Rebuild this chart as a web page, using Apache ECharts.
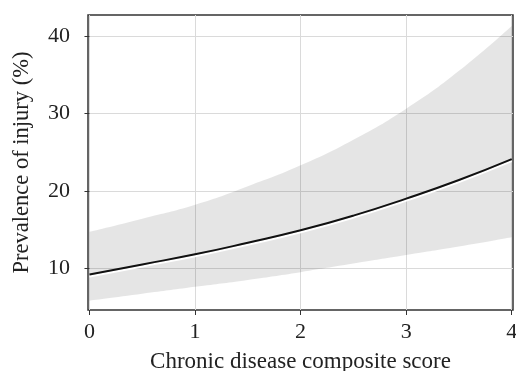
<html>
<head>
<meta charset="utf-8" />
<title>Prevalence of injury</title>
<script src="https://cdn.jsdelivr.net/npm/echarts@6/dist/echarts.min.js"></script>
<style type="text/css">
html, body { margin: 0; padding: 0; background: #fff; }
#echarts { width: 516px; height: 371px; }
</style>
</head>
<body>
<div id="echarts"></div>
<script type="text/javascript">
// values
var scores = [0, 0.5, 1, 1.5, 2, 2.5, 3, 3.5, 4];
var prevalence = [9.2, 10.5, 11.8, 13.3, 14.9, 16.8, 19.0, 21.4, 24.1];
var upper = [14.7, 16.4, 18.2, 20.6, 23.3, 26.6, 30.6, 35.5, 41.3];
var lower = [5.8, 6.7, 7.6, 8.5, 9.5, 10.6, 11.7, 12.8, 14.0];
var xTicks = [0, 1, 2, 3, 4];
var yTicks = [10, 20, 30, 40];

var myChart = echarts.init(document.getElementById('echarts'));

var serif = 'Liberation Serif';
// value first so that the stack goes on y, score second (encode below)
var lowerData = [], bandData = [], lineData = [];
for (var i = 0; i < scores.length; i++) {
    lowerData.push([lower[i], scores[i]]);
    bandData.push([+(upper[i] - lower[i]).toFixed(2), scores[i]]);
    lineData.push([prevalence[i], scores[i]]);
}

var option = {
    animation: false,
    grid: {
        left: 88, right: 3, top: 15, bottom: 61,
        containLabel: false,
        outerBoundsMode: 'none',
        show: true,
        borderColor: '#333',
        borderWidth: 1.5,
        backgroundColor: 'transparent'
    },
    xAxis: {
        type: 'value',
        min: -0.014,
        max: 4.012,
        name: 'Chronic disease composite score',
        nameLocation: 'middle',
        nameGap: 40,
        nameTextStyle: { fontFamily: serif, fontSize: 23, color: '#222' },
        axisLine: { show: false },
        axisTick: { show: true, length: 5, customValues: xTicks, lineStyle: { color: '#333' } },
        axisLabel: { customValues: xTicks, margin: 11, fontFamily: serif, fontSize: 22, color: '#222' },
        splitLine: { show: true, lineStyle: { color: '#dadada', width: 1 } }
    },
    yAxis: {
        type: 'value',
        min: 4.61,
        max: 42.71,
        name: 'Prevalence of injury (%)',
        nameLocation: 'middle',
        nameGap: 54,
        nameTextStyle: { fontFamily: serif, fontSize: 22.5, color: '#222' },
        axisLine: { show: false },
        axisTick: { show: true, length: 5, customValues: yTicks, lineStyle: { color: '#333' } },
        axisLabel: { customValues: yTicks, margin: 18, fontFamily: serif, fontSize: 22, color: '#222' },
        splitLine: { show: true, lineStyle: { color: '#dadada', width: 1 } }
    },
    series: [{
        type: 'line',
        data: lowerData,
        encode: { x: 1, y: 0 },
        stack: 'ci',
        smooth: true,
        symbol: 'none',
        lineStyle: { opacity: 0 },
        silent: true
    }, {
        type: 'line',
        data: bandData,
        encode: { x: 1, y: 0 },
        stack: 'ci',
        smooth: true,
        symbol: 'none',
        lineStyle: { opacity: 0 },
        areaStyle: { color: 'rgba(0,0,0,0.1)', opacity: 1 },
        silent: true
    }, {
        type: 'line',
        data: lineData,
        encode: { x: 1, y: 0 },
        smooth: true,
        symbol: 'none',
        lineStyle: {
            color: '#111',
            width: 2,
            shadowColor: '#ffffff',
            shadowBlur: 0,
            shadowOffsetY: 2
        },
        z: 5
    }]
};

myChart.setOption(option);
</script>
</body>
</html>
